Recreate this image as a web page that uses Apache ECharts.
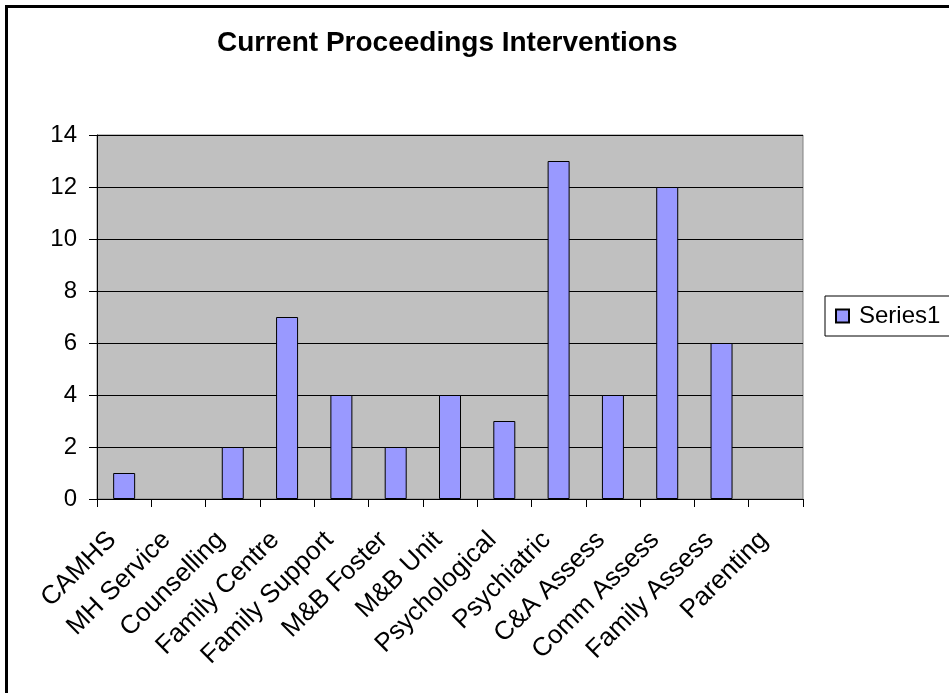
<!DOCTYPE html>
<html>
<head>
<meta charset="utf-8">
<script src="https://cdn.jsdelivr.net/npm/echarts@6/dist/echarts.min.js"></script>
<style>
html,body{margin:0;padding:0;background:#fff;}
#c{width:949px;height:693px;}
</style>
</head>
<body>
<div id="c"></div>
<script>
var categories = ['CAMHS','MH Service','Counselling','Family Centre','Family Support','M&B Foster','M&B Unit','Psychological','Psychiatric','C&A Assess','Comm Assess','Family Assess','Parenting'];
var series1 = [1,0,2,7,4,2,4,3,13,4,12,6,0];
var yTicks = {min:0, max:14, interval:2};

var chart = echarts.init(document.getElementById('c'));
var font = 'Liberation Sans, Arial, sans-serif';
var barData = series1.map(function(v){
  return v === 0 ? {value:v, itemStyle:{borderWidth:0, opacity:0}} : v;
});
chart.setOption({
  animation:false,
  backgroundColor:'#fff',
  title:{
    text:'Current Proceedings Interventions',
    left:217, top:29, padding:0,
    textStyle:{fontFamily:font, fontSize:28, fontWeight:'bold', color:'#000'}
  },
  graphic:[{
    type:'rect', silent:true, z:-1,
    shape:{x:6.5, y:6.5, width:2000, height:2000},
    style:{fill:'none', stroke:'#000', lineWidth:3}
  }],
  legend:{
    left:825, top:296,
    orient:'vertical',
    padding:[8,60,8,10],
    borderColor:'#000', borderWidth:1,
    itemWidth:13, itemHeight:13,
    icon:'rect',
    textStyle:{fontFamily:font, fontSize:24, color:'#000', padding:[0,0,0,5]},
    data:['Series1']
  },
  grid:{left:97, right:146, top:135, bottom:194, show:true, backgroundColor:'#C0C0C0', borderColor:'#808080', borderWidth:1},
  xAxis:{
    type:'category', data:categories,
    boundaryGap:true,
    axisLine:{lineStyle:{color:'#000', width:1}},
    axisTick:{show:true, length:8, inside:false, alignWithLabel:false, interval:0, lineStyle:{color:'#000'}},
    axisLabel:{interval:0, rotate:45, margin:25, padding:[0,17,0,0], fontFamily:font, fontSize:26, color:'#000'},
    splitLine:{show:false}
  },
  yAxis:{
    type:'value', min:yTicks.min, max:yTicks.max, interval:yTicks.interval,
    axisLine:{show:true, lineStyle:{color:'#000', width:1}},
    axisTick:{show:true, length:8, lineStyle:{color:'#000'}},
    axisLabel:{margin:20, fontFamily:font, fontSize:24, color:'#000'},
    splitLine:{show:true, lineStyle:{color:'#000', width:1}}
  },
  series:[{
    name:'Series1', type:'bar', data:barData, barWidth:22,
    itemStyle:{color:'#9999FF', borderColor:'#000', borderWidth:1}
  }]
});
</script>
</body>
</html>
